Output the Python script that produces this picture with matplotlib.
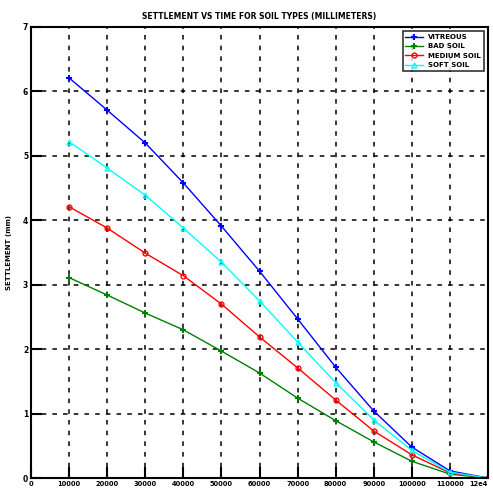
import matplotlib
matplotlib.use("Agg")
import matplotlib.pyplot as plt

x = [1, 2, 3, 4, 5, 6, 7, 8, 9, 10, 11, 12]
hard = [6.21, 5.71, 5.20, 4.58, 3.91, 3.21, 2.47, 1.72, 1.04, 0.48, 0.11, 0.0]
bad = [3.11, 2.84, 2.56, 2.30, 1.97, 1.63, 1.24, 0.89, 0.56, 0.26, 0.06, 0.0]
medium = [4.21, 3.88, 3.49, 3.14, 2.70, 2.19, 1.71, 1.21, 0.73, 0.36, 0.08, 0.0]
soft = [5.22, 4.81, 4.39, 3.88, 3.35, 2.75, 2.11, 1.48, 0.90, 0.43, 0.09, 0.0]
names = ["VITREOUS", "BAD SOIL", "MEDIUM SOIL", "SOFT SOIL"]
xticks = list(range(0, 13))
xlabels = ["0"] + ["%d0000" % i for i in range(1, 12)] + ["12e4"]
yticks = list(range(0, 8))

fig = plt.figure(figsize=(4.93, 4.92), dpi=100)
ax = fig.add_axes([31/493, 14/492, 457/493, 451/492])

ax.plot(x, hard, '-+', color='blue', lw=1, ms=5, mew=1.5, label=names[0])
ax.plot(x, bad, '-+', color='green', lw=1, ms=5, mew=1.5, label=names[1])
ax.plot(x, medium, '-o', color='red', lw=1, ms=3.5, mfc='none', mew=1.0, label=names[2])
ax.plot(x, soft, '-^', color='cyan', lw=1, ms=3.5, mfc='none', mew=1.0, label=names[3])

ax.set_xlim(0, 12)
ax.set_ylim(0, 7)
ax.set_xticks(xticks)
ax.set_xticklabels(xlabels, fontsize=4.8, fontweight='bold')
labs = ax.get_xticklabels()
labs[-1].set_ha('right')
ax.set_yticks(yticks)
ax.set_yticklabels([str(v) for v in yticks], fontsize=5.5, fontweight='bold')
ax.tick_params(direction='in', length=8, width=1.5, pad=2)
ax.grid(True, color='black', linestyle=(0, (3, 4)), linewidth=1.1)
for s in ax.spines.values():
    s.set_linewidth(1.5)

ax.set_title("SETTLEMENT VS TIME FOR SOIL TYPES (MILLIMETERS)", fontsize=5.5,
             fontweight='bold', pad=6)
ax.set_ylabel("SETTLEMENT (mm)", fontsize=5, fontweight='bold', labelpad=8)

leg = ax.legend(loc='upper right', fontsize=5, frameon=True, fancybox=False,
                edgecolor='black', borderaxespad=0.6, handlelength=2.5)
leg.get_frame().set_linewidth(1.2)
for t in leg.get_texts():
    t.set_fontweight('bold')

fig.savefig("out.png", dpi=100, facecolor='white')
